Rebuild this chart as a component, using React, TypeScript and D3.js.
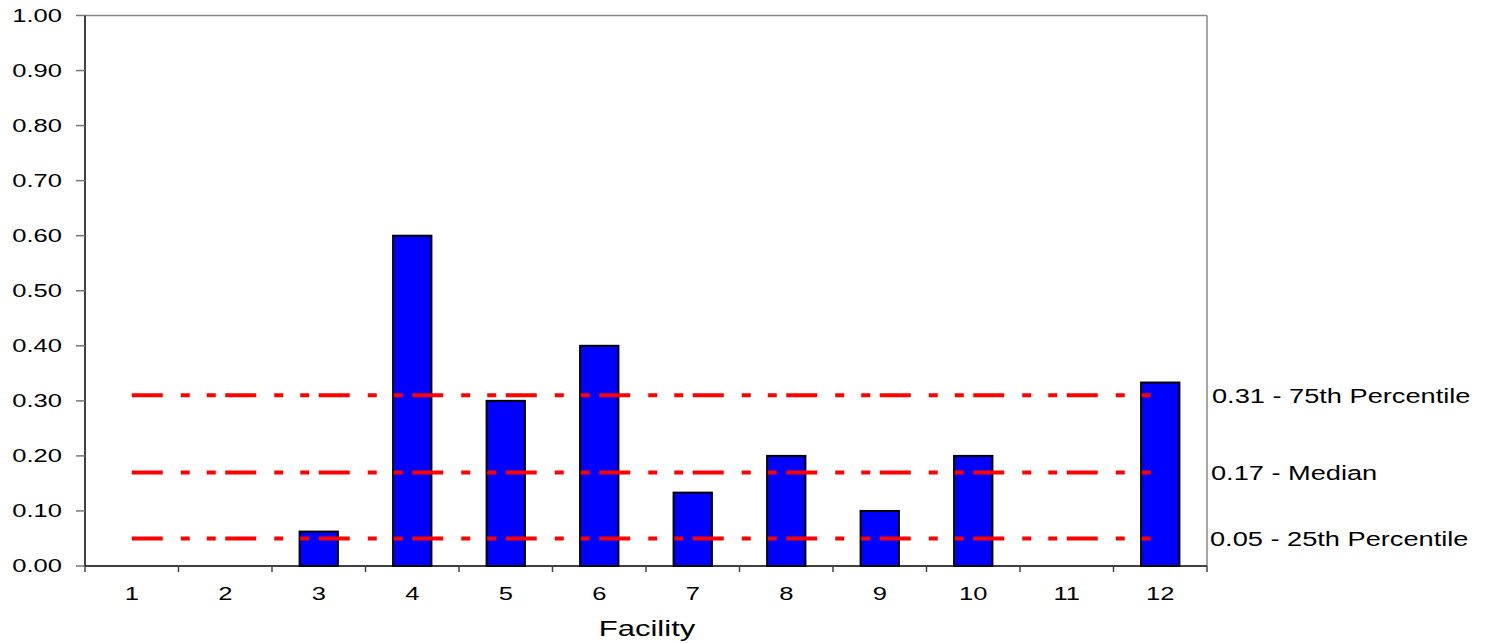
import React from "react";
import * as d3 from "d3";

const facilities = ["1", "2", "3", "4", "5", "6", "7", "8", "9", "10", "11", "12"];
const values = [0, 0, 0.0625, 0.6, 0.3, 0.4, 0.1333, 0.2, 0.1, 0.2, 0, 0.3333];
const yTicks = [0, 0.1, 0.2, 0.3, 0.4, 0.5, 0.6, 0.7, 0.8, 0.9, 1.0];
const refValues = [0.31, 0.17, 0.05];
const refLabels = ["0.31 - 75th Percentile", "0.17 - Median", "0.05 - 25th Percentile"];

const W = 1492;
const H = 643;
const left = 85;
const right = 1207;
const top = 15.5;
const bottom = 566;
const font = "'Liberation Sans', Arial, sans-serif";

function SText(props: {
  x: number;
  y: number;
  sx: number;
  size: number;
  anchor?: "start" | "middle" | "end";
  children: React.ReactNode;
}) {
  return (
    <text
      transform={`translate(${props.x},${props.y}) scale(${props.sx},1)`}
      dy="0.36em"
      textAnchor={props.anchor ?? "start"}
      fontSize={props.size}
      fill="#000"
    >
      {props.children}
    </text>
  );
}

export default function App() {
  const x = d3.scaleBand<string>().domain(facilities).range([left, right]).paddingInner(0).paddingOuter(0);
  const y = d3.scaleLinear().domain([0, 1]).range([bottom, top]);
  const bw = x.bandwidth();
  const barW = bw * 0.41;
  const x0 = (x(facilities[0]) ?? 0) + bw / 2;
  const x1 = (x(facilities[facilities.length - 1]) ?? 0) + bw / 2;
  const refXOffsets = [1212, 1211, 1210];

  return (
    <svg
      width={W}
      height={H}
      style={{ position: "absolute", left: 0, top: 0, background: "#fff" }}
      fontFamily={font}
    >
      {/* plot border (grey) */}
      <line x1={left} x2={right} y1={top} y2={top} stroke="#888" strokeWidth={1.5} />
      <line x1={right} x2={right} y1={top} y2={bottom} stroke="#888" strokeWidth={1.5} />

      {/* bars */}
      {facilities.map((f, i) =>
        values[i] > 0 ? (
          <rect
            key={f}
            x={(x(f) ?? 0) + bw / 2 - barW / 2}
            y={y(values[i])}
            width={barW}
            height={bottom - y(values[i])}
            fill="#0000ff"
            stroke="#000"
            strokeWidth={2}
          />
        ) : null
      )}

      {/* reference lines */}
      {refValues.map((v, i) => (
        <g key={i}>
          <line
            x1={x0}
            x2={x1}
            y1={y(v)}
            y2={y(v)}
            stroke="#ff0000"
            strokeWidth={4}
            strokeDasharray="31 18 9 17 9 9.5"
          />
          <SText x={refXOffsets[i]} y={y(v)} sx={1.36} size={20}>
            {refLabels[i]}
          </SText>
        </g>
      ))}

      {/* y axis */}
      <line x1={left} x2={left} y1={top} y2={bottom} stroke="#000" strokeWidth={1.5} />
      {yTicks.map((t) => (
        <g key={t}>
          <line x1={left - 9} x2={left} y1={y(t)} y2={y(t)} stroke="#777" strokeWidth={1.5} />
          <SText x={62} y={y(t)} sx={1.42} size={18} anchor="end">
            {t.toFixed(2)}
          </SText>
        </g>
      ))}

      {/* x axis */}
      <line x1={left} x2={right} y1={bottom} y2={bottom} stroke="#000" strokeWidth={1.5} />
      {facilities.map((f) => (
        <line
          key={"t" + f}
          x1={x(f) ?? 0}
          x2={x(f) ?? 0}
          y1={bottom}
          y2={bottom + 6}
          stroke="#444"
          strokeWidth={1.5}
        />
      ))}
      <line x1={right} x2={right} y1={bottom} y2={bottom + 6} stroke="#444" strokeWidth={1.5} />
      {facilities.map((f) => (
        <SText key={"l" + f} x={(x(f) ?? 0) + bw / 2} y={594} sx={1.42} size={18} anchor="middle">
          {f}
        </SText>
      ))}
      <SText x={647} y={628} sx={1.38} size={22.5} anchor="middle">
        Facility
      </SText>
    </svg>
  );
}
